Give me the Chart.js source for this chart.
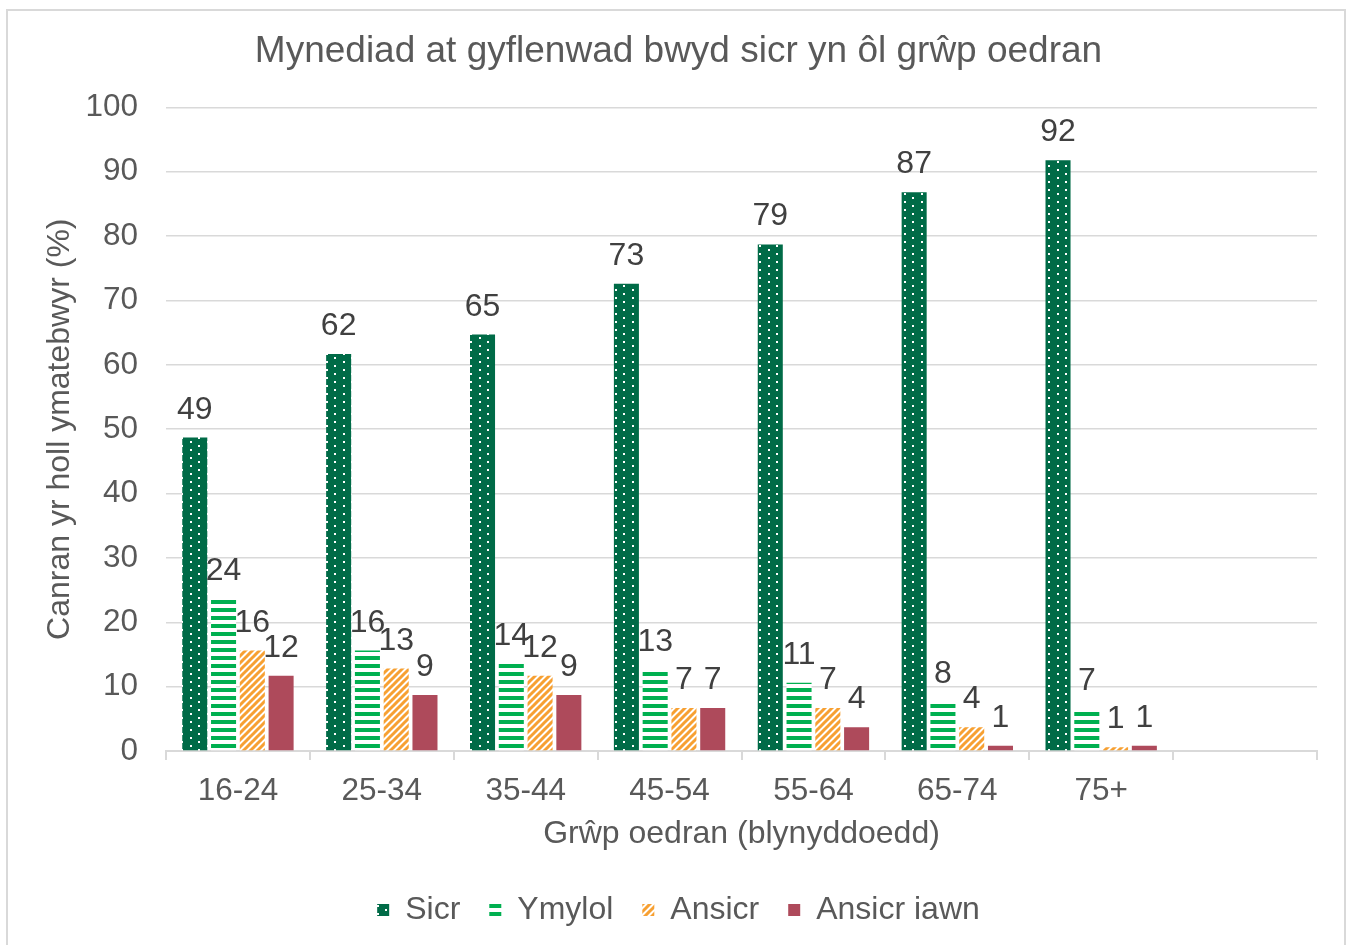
<!DOCTYPE html>
<html>
<head>
<meta charset="utf-8">
<script src="https://cdn.jsdelivr.net/npm/chart.js@4.4.1/dist/chart.umd.min.js"></script>
<style>
  html, body { margin: 0; padding: 0; background: #fff; }
  #wrap { width: 1352px; height: 945px; }
</style>
</head>
<body>
<div id="wrap"><canvas id="chart" width="1352" height="945"></canvas></div>
<script>
// --- Data ---
const ageGroups = ['16-24', '25-34', '35-44', '45-54', '55-64', '65-74', '75+', ''];
const sicr = [48.7, 61.7, 64.7, 72.6, 78.7, 86.8, 91.8, null];
const ymylol = [23.6, 15.6, 13.5, 12.6, 10.6, 7.6, 6.6, null];
const ansicr = [15.6, 12.8, 11.7, 6.7, 6.7, 3.7, 0.6, null];
const ansicrIawn = [11.7, 8.7, 8.7, 6.7, 3.7, 0.8, 0.8, null];
const yTicks = [0, 10, 20, 30, 40, 50, 60, 70, 80, 90, 100];

const FONT = "'Liberation Sans', Arial, sans-serif";
const TEXT = '#595959';

// --- Fill patterns ---
function makeTile(w, h, draw) {
    const c = document.createElement('canvas');
    c.width = w; c.height = h;
    const g = c.getContext('2d');
    draw(g);
    return g.createPattern(c, 'repeat');
}

const dotsPattern = makeTile(17, 8, g => {
    g.fillStyle = '#006b47';
    g.fillRect(0, 0, 17, 8);
    g.fillStyle = '#ffffff';
    g.fillRect(3, 1, 2, 2);
    g.fillRect(11, 5, 2, 2);
});

const stripesPattern = makeTile(8, 8, g => {
    g.fillStyle = '#ffffff';
    g.fillRect(0, 0, 8, 8);
    g.fillStyle = '#00b050';
    g.fillRect(0, 0, 8, 4);
});

const diagPattern = makeTile(7, 7, g => {
    g.fillStyle = '#ffffff';
    g.fillRect(0, 0, 7, 7);
    g.strokeStyle = '#f7a032';
    g.lineWidth = 3;
    g.beginPath();
    g.moveTo(-1, 8); g.lineTo(8, -1);
    g.moveTo(-1, 1); g.lineTo(1, -1);
    g.moveTo(6, 8); g.lineTo(8, 6);
    g.stroke();
});

// --- Plugins ---
const outerBorder = {
    id: 'outerBorder',
    beforeDraw(chart) {
        const ctx = chart.ctx;
        ctx.save();
        ctx.fillStyle = '#ffffff';
        ctx.fillRect(0, 0, chart.width, chart.height);
        ctx.strokeStyle = '#d9d9d9';
        ctx.lineWidth = 2;
        ctx.strokeRect(7, 10, 1338, 960);
        ctx.restore();
    }
};

const barLabels = {
    id: 'barLabels',
    afterDatasetsDraw(chart) {
        const ctx = chart.ctx;
        ctx.save();
        ctx.font = '32px ' + FONT;
        ctx.fillStyle = '#404040';
        ctx.textAlign = 'center';
        ctx.textBaseline = 'alphabetic';
        chart.data.datasets.forEach((ds, i) => {
            const meta = chart.getDatasetMeta(i);
            meta.data.forEach((bar, j) => {
                const v = ds.data[j];
                if (v === null || v === undefined) return;
                ctx.fillText(String(Math.round(v)), bar.x, bar.y - 19);
            });
        });
        ctx.restore();
    }
};

// --- Chart ---
const ctx = document.getElementById('chart').getContext('2d');
new Chart(ctx, {
    type: 'bar',
    data: {
        labels: ageGroups,
        datasets: [
            { label: 'Sicr', data: sicr, backgroundColor: dotsPattern },
            { label: 'Ymylol', data: ymylol, backgroundColor: stripesPattern },
            { label: 'Ansicr', data: ansicr, backgroundColor: diagPattern },
            { label: 'Ansicr iawn', data: ansicrIawn, backgroundColor: '#ae4a5b' }
        ]
    },
    options: {
        responsive: false,
        animation: false,
        devicePixelRatio: 1,
        layout: { padding: { left: 40, right: 35, top: 0, bottom: 9 } },
        datasets: { bar: { categoryPercentage: 0.8, barPercentage: 0.87 } },
        plugins: {
            tooltip: { enabled: false },
            title: {
                display: true,
                text: 'Mynediad at gyflenwad bwyd sicr yn ôl grŵp oedran',
                color: TEXT,
                font: { family: FONT, size: 37, weight: 'normal' },
                padding: { top: 30, bottom: 33 }
            },
            legend: {
                position: 'bottom',
                labels: {
                    color: TEXT,
                    font: { family: FONT, size: 32 },
                    boxWidth: 12,
                    boxHeight: 12,
                    padding: 29
                }
            }
        },
        scales: {
            x: {
                afterFit(axis) { axis.height = 114; },
                grid: { drawOnChartArea: false, drawTicks: true, tickLength: 9, color: '#d9d9d9', lineWidth: 2 },
                border: { color: '#d9d9d9', width: 2 },
                ticks: { color: TEXT, font: { family: FONT, size: 31.5 }, padding: 12, maxRotation: 0 },
                title: {
                    display: true,
                    text: 'Grŵp oedran (blynyddoedd)',
                    color: TEXT,
                    font: { family: FONT, size: 32 },
                    padding: { top: 0, bottom: 12 }
                }
            },
            y: {
                min: 0,
                max: 100,
                afterFit(axis) { axis.width = 126; },
                afterBuildTicks(axis) { axis.ticks = yTicks.map(v => ({ value: v })); },
                grid: { drawTicks: false, color: '#d9d9d9', lineWidth: 1.5 },
                border: { display: false },
                ticks: { color: TEXT, font: { family: FONT, size: 31.5 }, padding: 28 },
                title: {
                    display: true,
                    text: 'Canran yr holl ymatebwyr (%)',
                    color: TEXT,
                    font: { family: FONT, size: 32 },
                    padding: { top: 1, bottom: 0 }
                }
            }
        }
    },
    plugins: [outerBorder, barLabels]
});
</script>
</body>
</html>
